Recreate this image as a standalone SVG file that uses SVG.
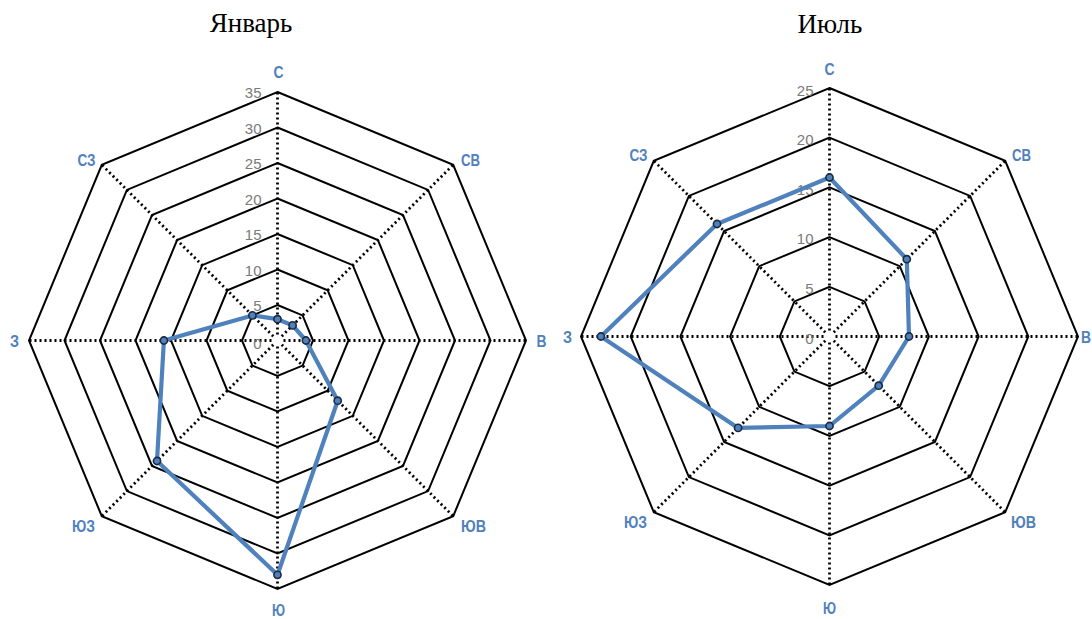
<svg xmlns="http://www.w3.org/2000/svg" width="1092" height="619" viewBox="0 0 1092 619">
<style>
.title{font-family:"Liberation Serif",serif;font-size:27px;fill:#000;text-anchor:middle}
.ring{fill:none;stroke:#000;stroke-width:2;stroke-linejoin:miter}
.spoke{stroke:#000;stroke-width:2.8;stroke-dasharray:2 3}
.tick{font-family:"Liberation Sans",Arial,sans-serif;font-size:15px;fill:#7a7a7a;text-anchor:end}
.ax{font-family:"Liberation Sans",Arial,sans-serif;font-size:16px;font-weight:bold;fill:#4f81bd;text-anchor:middle}
.data{fill:none;stroke:#4f81bd;stroke-width:4.2;stroke-linejoin:round}
.pt{fill:#4f81bd;stroke:#1a2a3f;stroke-width:1.6}
</style>
<rect width="1092" height="619" fill="#fff"/>
<text class="title" x="251" y="32">Январь</text>
<text class="title" x="830" y="33">Июль</text>

<g id="chart-january" transform="translate(277.5,340.5)">
  <g id="grid-jan">
    <polygon class="ring" points="0,-35.5 25.1,-25.1 35.5,0 25.1,25.1 0,35.5 -25.1,25.1 -35.5,0 -25.1,-25.1"/>
    <polygon class="ring" points="0,-71 50.2,-50.2 71,0 50.2,50.2 0,71 -50.2,50.2 -71,0 -50.2,-50.2"/>
    <polygon class="ring" points="0,-106.5 75.3,-75.3 106.5,0 75.3,75.3 0,106.5 -75.3,75.3 -106.5,0 -75.3,-75.3"/>
    <polygon class="ring" points="0,-142 100.4,-100.4 142,0 100.4,100.4 0,142 -100.4,100.4 -142,0 -100.4,-100.4"/>
    <polygon class="ring" points="0,-177.5 125.5,-125.5 177.5,0 125.5,125.5 0,177.5 -125.5,125.5 -177.5,0 -125.5,-125.5"/>
    <polygon class="ring" points="0,-213 150.6,-150.6 213,0 150.6,150.6 0,213 -150.6,150.6 -213,0 -150.6,-150.6"/>
    <polygon class="ring" points="0,-248.5 175.7,-175.7 248.5,0 175.7,175.7 0,248.5 -175.7,175.7 -248.5,0 -175.7,-175.7"/>
  </g>
  <g id="spokes-jan">
    <line class="spoke" x1="0" y1="-6" x2="0" y2="-248.5"/>
    <line class="spoke" x1="4.2" y1="-4.2" x2="175.7" y2="-175.7"/>
    <line class="spoke" x1="6" y1="0" x2="248.5" y2="0"/>
    <line class="spoke" x1="4.2" y1="4.2" x2="175.7" y2="175.7"/>
    <line class="spoke" x1="0" y1="6" x2="0" y2="248.5"/>
    <line class="spoke" x1="-4.2" y1="4.2" x2="-175.7" y2="175.7"/>
    <line class="spoke" x1="-6" y1="0" x2="-248.5" y2="0"/>
    <line class="spoke" x1="-4.2" y1="-4.2" x2="-175.7" y2="-175.7"/>
  </g>
  <g id="ticks-jan">
    <text class="tick" x="-16" y="8">0</text>
    <text class="tick" x="-16" y="-30">5</text>
    <text class="tick" x="-16" y="-65">10</text>
    <text class="tick" x="-16" y="-101">15</text>
    <text class="tick" x="-16" y="-136">20</text>
    <text class="tick" x="-16" y="-172">25</text>
    <text class="tick" x="-16" y="-207">30</text>
    <text class="tick" x="-16" y="-243">35</text>
  </g>
  <g id="axes-jan">
    <text class="ax" x="1" y="-263" textLength="10" lengthAdjust="spacingAndGlyphs">С</text>
    <text class="ax" x="193" y="-175" textLength="19" lengthAdjust="spacingAndGlyphs">СВ</text>
    <text class="ax" x="264" y="6" textLength="10" lengthAdjust="spacingAndGlyphs">В</text>
    <text class="ax" x="196" y="191" textLength="25" lengthAdjust="spacingAndGlyphs">ЮВ</text>
    <text class="ax" x="1" y="275.5" textLength="13" lengthAdjust="spacingAndGlyphs">Ю</text>
    <text class="ax" x="-194" y="191" textLength="23" lengthAdjust="spacingAndGlyphs">ЮЗ</text>
    <text class="ax" x="-263" y="6" textLength="9" lengthAdjust="spacingAndGlyphs">З</text>
    <text class="ax" x="-191" y="-175" textLength="18" lengthAdjust="spacingAndGlyphs">СЗ</text>
  </g>
  <g id="series-jan">
    <polygon class="data" points="0,-21.3 15.1,-15.1 28.4,0 60.2,60.2 0,234.3 -120.5,120.5 -113.6,0 -25.1,-25.1"/>
    <circle class="pt" cx="0" cy="-21.3" r="3.6"/>
    <circle class="pt" cx="15.1" cy="-15.1" r="3.6"/>
    <circle class="pt" cx="28.4" cy="0" r="3.6"/>
    <circle class="pt" cx="60.2" cy="60.2" r="3.6"/>
    <circle class="pt" cx="0" cy="234.3" r="3.6"/>
    <circle class="pt" cx="-120.5" cy="120.5" r="3.6"/>
    <circle class="pt" cx="-113.6" cy="0" r="3.6"/>
    <circle class="pt" cx="-25.1" cy="-25.1" r="3.6"/>
  </g>
</g>

<g id="chart-july" transform="translate(829.5,336.5)">
  <g id="grid-jul">
    <polygon class="ring" points="0,-49.7 35.1,-35.1 49.7,0 35.1,35.1 0,49.7 -35.1,35.1 -49.7,0 -35.1,-35.1"/>
    <polygon class="ring" points="0,-99.4 70.3,-70.3 99.4,0 70.3,70.3 0,99.4 -70.3,70.3 -99.4,0 -70.3,-70.3"/>
    <polygon class="ring" points="0,-149.1 105.4,-105.4 149.1,0 105.4,105.4 0,149.1 -105.4,105.4 -149.1,0 -105.4,-105.4"/>
    <polygon class="ring" points="0,-198.8 140.6,-140.6 198.8,0 140.6,140.6 0,198.8 -140.6,140.6 -198.8,0 -140.6,-140.6"/>
    <polygon class="ring" points="0,-248.5 175.7,-175.7 248.5,0 175.7,175.7 0,248.5 -175.7,175.7 -248.5,0 -175.7,-175.7"/>
  </g>
  <g id="spokes-jul">
    <line class="spoke" x1="0" y1="-6" x2="0" y2="-248.5"/>
    <line class="spoke" x1="4.2" y1="-4.2" x2="175.7" y2="-175.7"/>
    <line class="spoke" x1="6" y1="0" x2="248.5" y2="0"/>
    <line class="spoke" x1="4.2" y1="4.2" x2="175.7" y2="175.7"/>
    <line class="spoke" x1="0" y1="6" x2="0" y2="248.5"/>
    <line class="spoke" x1="-4.2" y1="4.2" x2="-175.7" y2="175.7"/>
    <line class="spoke" x1="-6" y1="0" x2="-248.5" y2="0"/>
    <line class="spoke" x1="-4.2" y1="-4.2" x2="-175.7" y2="-175.7"/>
  </g>
  <g id="ticks-jul">
    <text class="tick" x="-16" y="7">0</text>
    <text class="tick" x="-16" y="-43">5</text>
    <text class="tick" x="-16" y="-93">10</text>
    <text class="tick" x="-16" y="-142">15</text>
    <text class="tick" x="-16" y="-192">20</text>
    <text class="tick" x="-16" y="-241">25</text>
  </g>
  <g id="axes-jul">
    <text class="ax" x="0" y="-262" textLength="10" lengthAdjust="spacingAndGlyphs">С</text>
    <text class="ax" x="192" y="-176" textLength="19" lengthAdjust="spacingAndGlyphs">СВ</text>
    <text class="ax" x="256.5" y="6" textLength="10" lengthAdjust="spacingAndGlyphs">В</text>
    <text class="ax" x="194" y="191" textLength="25" lengthAdjust="spacingAndGlyphs">ЮВ</text>
    <text class="ax" x="0" y="277" textLength="13" lengthAdjust="spacingAndGlyphs">Ю</text>
    <text class="ax" x="-194" y="191" textLength="23" lengthAdjust="spacingAndGlyphs">ЮЗ</text>
    <text class="ax" x="-262" y="6" textLength="9" lengthAdjust="spacingAndGlyphs">З</text>
    <text class="ax" x="-191" y="-176" textLength="18" lengthAdjust="spacingAndGlyphs">СЗ</text>
  </g>
  <g id="series-jul">
    <polygon class="data" points="0,-159 77.3,-77.3 79.5,0 49.2,49.2 0,89.5 -91.4,91.4 -228.6,0 -112.5,-112.5"/>
    <circle class="pt" cx="0" cy="-159" r="3.6"/>
    <circle class="pt" cx="77.3" cy="-77.3" r="3.6"/>
    <circle class="pt" cx="79.5" cy="0" r="3.6"/>
    <circle class="pt" cx="49.2" cy="49.2" r="3.6"/>
    <circle class="pt" cx="0" cy="89.5" r="3.6"/>
    <circle class="pt" cx="-91.4" cy="91.4" r="3.6"/>
    <circle class="pt" cx="-228.6" cy="0" r="3.6"/>
    <circle class="pt" cx="-112.5" cy="-112.5" r="3.6"/>
  </g>
</g>
</svg>
